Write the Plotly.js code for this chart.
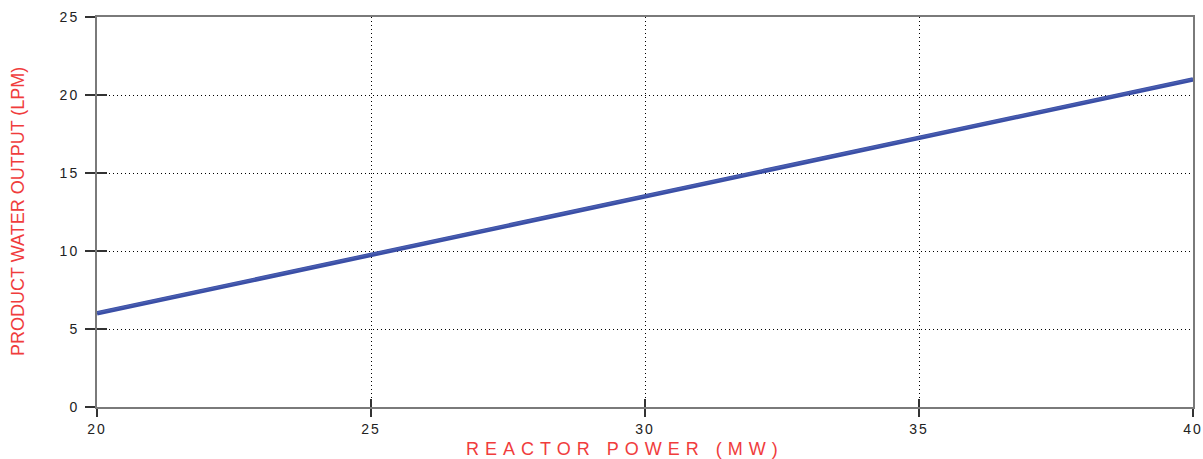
<!DOCTYPE html>
<html><head><meta charset="utf-8">
<script src="https://cdn.plot.ly/plotly-3.0.1.min.js"></script>
<style>
html,body{margin:0;padding:0;background:#fff;}
#chart{width:1203px;height:459px;}
.xtick text,.ytick text{letter-spacing:2px;}
.annotation.xt .annotation-text{letter-spacing:6px;}
</style>
</head><body><div id="chart"></div>
<script>
const reactorPower = [20, 25, 30, 35, 40];
const waterOutputA = [6.0, 9.75, 13.5, 17.25, 21.0];
const waterOutputB = [6.05, 9.8, 13.55, 17.3, 21.05];
const xTickVals = [20, 25, 30, 35, 40];
const yTickVals = [0, 5, 10, 15, 20, 25];
const xTitle = 'REACTOR POWER (MW)';
const yTitle = 'PRODUCT WATER OUTPUT (LPM)';

const traces = [
  {x: reactorPower, y: waterOutputA, mode: 'lines', line: {color: '#3a4ea6', width: 4.5}, hoverinfo: 'skip'},
  {x: reactorPower, y: waterOutputB, mode: 'lines', line: {color: '#4a5fb0', width: 1.5}, hoverinfo: 'skip'},
  {x: reactorPower, y: waterOutputA, xaxis: 'x2', yaxis: 'y2', mode: 'lines', line: {width: 0}, opacity: 0, hoverinfo: 'skip'}
];

const layout = {
  width: 1203, height: 459,
  margin: {l: 97, r: 10, t: 17, b: 52},
  paper_bgcolor: '#fff', plot_bgcolor: '#fff',
  showlegend: false,
  font: {family: 'Liberation Sans, Arial, sans-serif', color: '#222', size: 13},
  xaxis: {
    range: [20, 40], tickvals: xTickVals, ticktext: xTickVals.map(String),
    tickfont: {size: 14, color: '#222'},
    showgrid: true, gridcolor: '#000', griddash: '1px,3px', gridwidth: 1,
    showline: true, linecolor: '#7a7a7a', linewidth: 2, mirror: true,
    ticks: 'outside', ticklen: 8, tickcolor: '#333', tickwidth: 1.5,
    zeroline: false
  },
  yaxis: {
    range: [0, 25], tickvals: yTickVals, ticktext: yTickVals.map(String),
    tickfont: {size: 14, color: '#222'}, ticklabelstandoff: 3,
    showgrid: true, gridcolor: '#000', griddash: '1px,3px', gridwidth: 1,
    showline: true, linecolor: '#7a7a7a', linewidth: 2, mirror: true,
    ticks: 'outside', ticklen: 10, tickcolor: '#333', tickwidth: 1.5,
    zeroline: false
  },
  xaxis2: {range: [20, 40], tickvals: xTickVals, overlaying: 'x', anchor: 'y', showgrid: false, showticklabels: false, ticks: 'inside', ticklen: 8, tickcolor: '#333', tickwidth: 1.5, zeroline: false, showline: false},
  yaxis2: {range: [0, 25], tickvals: yTickVals, overlaying: 'y', anchor: 'x', showgrid: false, showticklabels: false, ticks: 'inside', ticklen: 10, tickcolor: '#333', tickwidth: 1.5, zeroline: false, showline: false},
  annotations: [{
    text: xTitle, xref: 'paper', yref: 'paper', x: 0.482, y: 0, yshift: -42,
    xanchor: 'center', yanchor: 'middle', showarrow: false,
    font: {color: '#f03c3c', size: 18}
  }, {
    text: yTitle, xref: 'paper', yref: 'paper', x: 0, xshift: -79, y: 0.5,
    xanchor: 'center', yanchor: 'middle', textangle: -90, showarrow: false,
    font: {color: '#f03c3c', size: 18}
  }]
};

Plotly.newPlot('chart', traces, layout, {staticPlot: true, displayModeBar: false}).then(function(gd){
  var anns = gd.querySelectorAll('.annotation');
  if (anns.length) anns[0].classList.add('xt');
});
</script>
</body></html>
